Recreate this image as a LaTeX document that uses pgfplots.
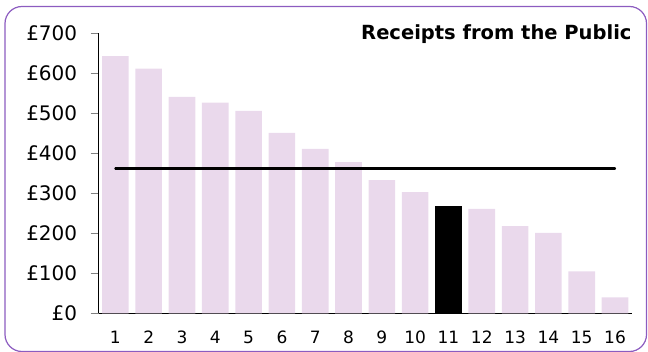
\documentclass[border=0pt]{standalone}
\usepackage{fontspec}
\setmainfont{DejaVu Sans}
\usepackage{pgfplots}
\pgfplotsset{compat=1.18}
\definecolor{barpink}{RGB}{234,217,236}
\definecolor{framepurple}{RGB}{140,92,192}
\begin{document}
\begin{tikzpicture}[x=1pt,y=1pt]
\useasboundingbox (0,0) rectangle (648,351);
\draw[framepurple, line width=1.2pt, rounded corners=17pt] (5,-0.5) rectangle (646.5,344.5);
\begin{axis}[
  at={(98.7pt,37.7pt)}, anchor=south west,
  scale only axis, width=533pt, height=280pt,
  xmin=0.5, xmax=16.5, ymin=0, ymax=700,
  axis x line=bottom, axis y line=left,
  axis line style={-, line width=0.8pt},
  xtick={1,...,16},
  xticklabels={1,2,3,4,5,6,7,8,9,10,11,12,13,14,15,16},
  ytick={0,100,...,700},
  yticklabels={£0,£100,£200,£300,£400,£500,£600,£700},
  major x tick style={draw=none},
  major y tick style={line width=0.8pt},
  tick align=outside, major tick length=8pt,
  xticklabel style={font=\fontsize{17}{20}\selectfont, yshift=-6pt},
  yticklabel style={font=\fontsize{20}{24}\selectfont, xshift=-10pt},
  /pgf/number format/assume math mode=true,
  clip=false,
]
\addplot[ybar, bar width=0.8, bar shift=0pt, fill=barpink, draw=none] coordinates {
(1,643) (2,612) (3,541) (4,527) (5,506) (6,451) (7,411) (8,378)
(9,333) (10,303) (12,261) (13,218) (14,201) (15,105) (16,40)};
\addplot[ybar, bar width=0.8, bar shift=0pt, fill=black, draw=none] coordinates {(11,268)};
\addplot[black, line width=2.2pt, line cap=round] coordinates {(1,362) (16,362)};
\end{axis}
\node[anchor=base east, inner sep=0pt, font=\bfseries\fontsize{19.5}{23}\selectfont] at (631.7,311.7) {Receipts from the Public};
\end{tikzpicture}
\end{document}
